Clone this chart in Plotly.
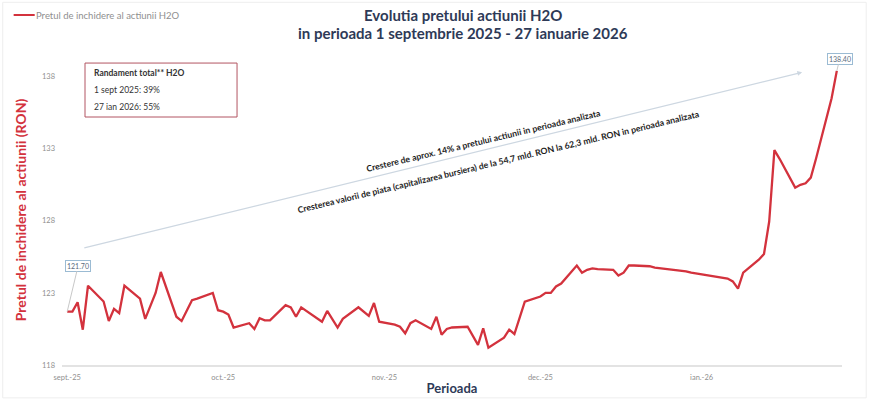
import plotly.graph_objects as go

# ---------------- data ----------------
dates = [
    "2025-09-01", "2025-09-02", "2025-09-03", "2025-09-04", "2025-09-05",
    "2025-09-08", "2025-09-09", "2025-09-10", "2025-09-11", "2025-09-12",
    "2025-09-15", "2025-09-16", "2025-09-18", "2025-09-19",
    "2025-09-22", "2025-09-23", "2025-09-25", "2025-09-26",
    "2025-09-29", "2025-09-30", "2025-10-01", "2025-10-02", "2025-10-03",
    "2025-10-06", "2025-10-07", "2025-10-08", "2025-10-09", "2025-10-10",
    "2025-10-13", "2025-10-14", "2025-10-15", "2025-10-16",
    "2025-10-20", "2025-10-21", "2025-10-23", "2025-10-24",
    "2025-10-27", "2025-10-29", "2025-10-30", "2025-10-31",
    "2025-11-03", "2025-11-04", "2025-11-05", "2025-11-06", "2025-11-07",
    "2025-11-10", "2025-11-11", "2025-11-12", "2025-11-13", "2025-11-14",
    "2025-11-17", "2025-11-19", "2025-11-20", "2025-11-21",
    "2025-11-24", "2025-11-25", "2025-11-26", "2025-11-27", "2025-11-28",
    "2025-12-01", "2025-12-02", "2025-12-03", "2025-12-04", "2025-12-05",
    "2025-12-08", "2025-12-09", "2025-12-10", "2025-12-11", "2025-12-12",
    "2025-12-15", "2025-12-16", "2025-12-17", "2025-12-18", "2025-12-19",
    "2025-12-22", "2025-12-23", "2025-12-29", "2025-12-30",
    "2026-01-05", "2026-01-06", "2026-01-07", "2026-01-08", "2026-01-09",
    "2026-01-12", "2026-01-13", "2026-01-14", "2026-01-15", "2026-01-16",
    "2026-01-19", "2026-01-20", "2026-01-21", "2026-01-22", "2026-01-23",
    "2026-01-26", "2026-01-27",
]
prices = [
    121.70, 121.70, 122.35, 120.45, 123.50,
    122.40, 121.05, 121.90, 121.60, 123.50,
    122.60, 121.20, 123.00, 124.45,
    121.35, 121.05, 122.50, 122.60,
    123.00, 121.80, 121.70, 121.50, 120.60,
    120.90, 120.50, 121.25, 121.10, 121.10,
    122.15, 122.00, 121.35, 122.00,
    121.00, 121.75, 120.60, 121.20,
    122.00, 121.40, 122.30, 121.00,
    120.80, 120.65, 120.20, 120.90, 121.10,
    120.50, 121.35, 120.10, 120.50, 120.60,
    120.65, 119.40, 120.55, 119.20,
    119.90, 120.45, 120.15, 121.35, 122.40,
    122.75, 123.00, 123.00, 123.45, 123.65,
    124.90, 124.40, 124.60, 124.70, 124.65,
    124.60, 124.20, 124.40, 124.90, 124.90,
    124.85, 124.75, 124.50, 124.40,
    124.10, 124.00, 123.80, 123.30, 124.40,
    125.30, 125.70, 127.95, 132.90, 132.30,
    130.30, 130.50, 130.60, 131.00, 132.30,
    136.50, 138.40,
]
tick_vals = ["2025-09-01", "2025-10-01", "2025-11-01", "2025-12-01", "2026-01-01"]
tick_text = ["sept.-25", "oct.-25", "nov.-25", "dec.-25", "ian.-26"]
y_ticks = [118, 123, 128, 133, 138]

series_name = "Pretul de inchidere al actiunii H2O"
title_lines = ["Evolutia pretului actiunii H2O",
               "in perioada 1 septembrie 2025 - 27 ianuarie 2026"]
box_lines = ["<b>Randament total** H2O</b>", "1 sept 2025: 39%", "27 ian 2026: 55%"]
note1 = "Crestere de aprox. 14% a pretului actiunii in perioada analizata"
note2 = ("Cresterea valorii de piata (capitalizarea bursiera) de la 54,7 mld. "
         "RON la 62,3 mld. RON in perioada analizata")

# ---------------- styles ----------------
RED = "#d3323d"
NAVY = "#2e3a57"
GRAY = "#8f8f8f"
FONT = "Lato"

fig = go.Figure()
fig.add_trace(go.Scatter(
    x=dates, y=prices, mode="lines", name=series_name,
    line=dict(color=RED, width=2.3), showlegend=False,
))

fig.update_layout(
    width=870, height=401,
    margin=dict(l=62, r=28, t=55, b=36),
    paper_bgcolor="white", plot_bgcolor="white",
    font=dict(family=FONT, color=GRAY, size=8),
    xaxis=dict(
        type="date", range=["2025-08-31", "2026-01-28"],
        tickvals=tick_vals, ticktext=tick_text, automargin=False,
        showgrid=False, zeroline=False,
        showline=True, linecolor="#e3e3e3", linewidth=1.5,
        ticks="", ticklabelstandoff=4, tickfont=dict(size=7.5, color=GRAY),
        title=dict(text="<b>Perioada</b>", standoff=3,
                   font=dict(family=FONT, size=13, color=NAVY)),
    ),
    yaxis=dict(
        range=[118, 139.5], tickvals=y_ticks, automargin=False,
        showgrid=False, zeroline=False, showline=False, ticks="",
        ticklabelstandoff=6,
        tickfont=dict(size=7.5, color=GRAY),
        title=dict(text="<b>Pretul de inchidere al actiunii (RON)</b>", standoff=12,
                   font=dict(family=FONT, size=14, color=RED)),
    ),
)

# title (two lines)
for txt, yy in zip(title_lines, [1.129, 1.071]):
    fig.add_annotation(xref="paper", yref="paper", x=0.514, y=yy,
                       xanchor="center", yanchor="middle", showarrow=False,
                       text=f"<b>{txt}</b>",
                       font=dict(family=FONT, size=15, color=NAVY))

# manual legend (top-left)
fig.add_shape(type="line", xref="paper", yref="paper",
              x0=-0.062, x1=-0.035, y0=1.129, y1=1.129,
              line=dict(color=RED, width=2))
fig.add_annotation(xref="paper", yref="paper", x=-0.036, y=1.129,
                   xanchor="left", yanchor="middle", showarrow=False,
                   text=series_name, font=dict(size=9.5, color=GRAY))

# total-return box
fig.add_shape(type="rect", xref="paper", yref="paper",
              x0=0.0295, x1=0.2244, y0=0.80, y1=0.974,
              line=dict(color="#b25562", width=1), fillcolor="rgba(0,0,0,0)")
for txt, yy in zip(box_lines, [0.942, 0.887, 0.832]):
    fig.add_annotation(xref="paper", yref="paper", x=0.0385, y=yy,
                       xanchor="left", yanchor="middle", showarrow=False,
                       text=txt, font=dict(size=8.5, color="#333333"))

# trend arrow
fig.add_annotation(x="2026-01-20 08:00", y=138.3, ax="2025-09-04", ay=126.1,
                   xref="x", yref="y", axref="x", ayref="y",
                   showarrow=True, arrowhead=2, arrowsize=0.8, arrowwidth=1.2,
                   arrowcolor="#cdd7e1", text="")

# rotated notes
fig.add_annotation(x="2025-11-20", y=133.6, xref="x", yref="y", showarrow=False,
                   text=f"<b>{note1}</b>", textangle=-13.5,
                   font=dict(size=8.7, color="#1e1e1e"))
fig.add_annotation(x="2025-11-23", y=132.1, xref="x", yref="y", showarrow=False,
                   text=f"<b>{note2}</b>", textangle=-13.5,
                   font=dict(size=8.7, color="#1e1e1e"))

# first / last value labels
fig.add_annotation(x=dates[0], y=prices[0], xref="x", yref="y",
                   text=f"{prices[0]:.2f}", showarrow=True, arrowhead=0,
                   arrowcolor="#c8c8c8", arrowwidth=1, ax=11, ay=-46,
                   bordercolor="#9bbbd3", borderwidth=1, borderpad=1,
                   bgcolor="white", font=dict(size=7, color="#5a6b7d"))
fig.add_annotation(x=dates[-1], y=prices[-1], xref="x", yref="y",
                   text=f"{prices[-1]:.2f}", showarrow=True, arrowhead=0,
                   arrowcolor="#c8c8c8", arrowwidth=1, ax=3, ay=-12,
                   bordercolor="#9bbbd3", borderwidth=1, borderpad=1,
                   bgcolor="white", font=dict(size=7, color="#5a6b7d"))

# faint frame around picture
fig.add_shape(type="rect", xref="paper", yref="paper",
              x0=-0.076, x1=1.031, y0=-0.106, y1=1.17,
              line=dict(color="#eeeeee", width=1))

fig.write_html(
    "out.html",
    config={"displayModeBar": False},
    post_script="document.body.style.margin='0';document.body.style.overflow='hidden';",
)
